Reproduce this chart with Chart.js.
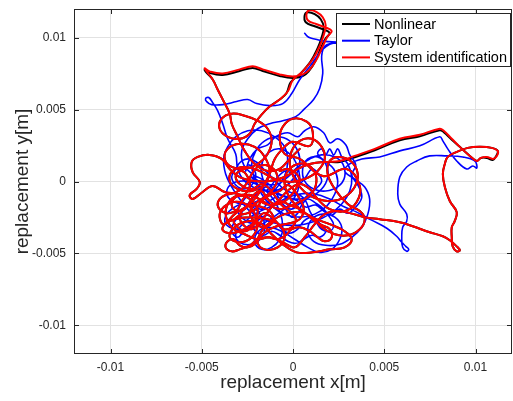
<!DOCTYPE html>
<html><head><meta charset="utf-8">
<script src="https://cdn.jsdelivr.net/npm/chart.js@4"></script>
<style>html,body{margin:0;padding:0;background:#fff;overflow:hidden}#wrap{width:513px;height:401px}</style>
</head><body><div id="wrap"><canvas id="c" width="513" height="401"></canvas></div>
<script>
const seriesLabels = ['Nonlinear', 'Taylor', 'System identification'];
const seriesColors = ['#000000', '#0000ff', '#ff0000'];
const seriesWidths = [2, 1.6, 2];
const xTickValues = [-0.01, -0.005, 0, 0.005, 0.01];
const xTickLabels = ['-0.01', '-0.005', '0', '0.005', '0.01'];
const yTickValues = [-0.01, -0.005, 0, 0.005, 0.01];
const yTickLabels = ['-0.01', '-0.005', '0', '0.005', '0.01'];
const axisTitles = ['replacement x[m]', 'replacement y[m]'];

const sysIdXY = [[0.00037,0.00227],[-0.00018,0.00157],[-0.00073,0.00087],[-0.00139,0.00073],[-0.00210,0.00122],[-0.00265,0.00213],[-0.00303,0.00311],[-0.00336,0.00402],[-0.00347,0.00472],[-0.00385,0.00570],[-0.00413,0.00640],[-0.00440,0.00710],[-0.00473,0.00766],[-0.00484,0.00787],[-0.00457,0.00766],[-0.00385,0.00752],[-0.00292,0.00780],[-0.00221,0.00801],[-0.00166,0.00780],[-0.00073,0.00745],[-0.00002,0.00731],[0.00053,0.00745],[0.00092,0.00780],[0.00130,0.00850],[0.00163,0.00941],[0.00190,0.01010],[0.00212,0.01045],[0.00190,0.01066],[0.00130,0.01094],[0.00081,0.01122],[0.00075,0.01171],[0.00092,0.01192],[0.00130,0.01178],[0.00163,0.01143],[0.00179,0.01087],[0.00168,0.01017],[0.00146,0.00941],[0.00108,0.00850],[0.00053,0.00766],[-0.00002,0.00703],[-0.00029,0.00626],[-0.00073,0.00570],[-0.00128,0.00521],[-0.00172,0.00465],
[-0.00210,0.00402],[-0.00237,0.00332],[-0.00292,0.00297],[-0.00358,0.00311],[-0.00402,0.00367],[-0.00391,0.00437],[-0.00336,0.00472],[-0.00265,0.00458],[-0.00194,0.00423],[-0.00139,0.00367],[-0.00117,0.00283],[-0.00139,0.00192],[-0.00194,0.00122],[-0.00265,0.00087],[-0.00336,0.00101],[-0.00374,0.00157],[-0.00358,0.00227],[-0.00292,0.00262],[-0.00210,0.00241],[-0.00155,0.00171],[-0.00128,0.00073],[-0.00155,-0.00017],[-0.00226,-0.00066],[-0.00303,-0.00052],[-0.00347,0.00003],[-0.00331,0.00073],[-0.00265,0.00101],[-0.00183,0.00073],[-0.00100,0.00017],[-0.00018,-0.00003],[0.00064,0.00017],[0.00135,0.00073],[0.00174,0.00157],[0.00157,0.00241],[0.00103,0.00297],[0.00037,0.00283],[-0.00007,0.00213],[-0.00018,0.00122],[0.00009,0.00017],[0.00064,-0.00073],[0.00135,-0.00122],[0.00212,-0.00136],[0.00283,-0.00108],[0.00338,-0.00038],[0.00355,0.00052],[0.00322,0.00136],[0.00256,0.00171],[0.00201,0.00143],[0.00190,0.00052],[0.00229,-0.00052],[0.00300,-0.00157],[0.00366,-0.00206],[0.00393,-0.00262],[0.00366,-0.00332],[0.00300,-0.00374],[0.00229,-0.00367],[0.00157,-0.00318],[0.00103,-0.00248],[0.00037,-0.00213],[-0.00046,-0.00227],[-0.00117,-0.00276],[-0.00172,-0.00346],[-0.00194,-0.00423],[-0.00155,-0.00472],[-0.00084,-0.00458],[-0.00046,-0.00388],[-0.00073,-0.00304],[-0.00139,-0.00262],[-0.00237,-0.00248],[-0.00320,-0.00262],[-0.00374,-0.00297],[-0.00385,-0.00339],[-0.00336,-0.00360],[-0.00265,-0.00332],[-0.00210,-0.00276],[-0.00194,-0.00192],[-0.00237,-0.00122],[-0.00303,-0.00087],[-0.00374,-0.00073],[-0.00440,-0.00031],[-0.00495,-0.00073],[-0.00550,-0.00122],[-0.00566,-0.00094],[-0.00528,-0.00052],[-0.00511,-0.00003],[-0.00550,0.00066],[-0.00555,0.00136],[-0.00522,0.00171],[-0.00457,0.00185],[-0.00391,0.00157],[-0.00347,0.00087],[-0.00292,0.00031],[-0.00210,0.00003],[-0.00128,0.00003],[-0.00046,0.00031],[0.00026,0.00087],[0.00092,0.00122],[0.00174,0.00136],[0.00256,0.00143],
[0.00338,0.00178],[0.00448,0.00227],[0.00585,0.00297],[0.00695,0.00325],[0.00804,0.00367],[0.00826,0.00353],[0.00870,0.00297],[0.00914,0.00241],[0.00969,0.00178],[0.01007,0.00143],[0.01029,0.00164],[0.01062,0.00171],[0.01095,0.00157],[0.01117,0.00178],[0.01122,0.00213],[0.01089,0.00234],[0.01023,0.00241],[0.00958,0.00234],[0.00897,0.00206],[0.00848,0.00171],[0.00832,0.00122],[0.00821,0.00052],[0.00832,-0.00038],[0.00859,-0.00136],[0.00897,-0.00213],[0.00886,-0.00276],[0.00870,-0.00318],[0.00870,-0.00388],[0.00875,-0.00451],[0.00897,-0.00486],[0.00914,-0.00479],[0.00897,-0.00451],[0.00859,-0.00409],[0.00821,-0.00381],[0.00749,-0.00353],[0.00656,-0.00311],[0.00585,-0.00283],[0.00475,-0.00262],[0.00393,-0.00248],[0.00311,-0.00220],
[0.00245,-0.00206],[0.00174,-0.00227],[0.00119,-0.00297],[0.00064,-0.00388],[0.00009,-0.00458],[-0.00056,-0.00423],[-0.00128,-0.00388],[-0.00194,-0.00402],[-0.00265,-0.00367],[-0.00336,-0.00318],[-0.00369,-0.00227],[-0.00347,-0.00136],[-0.00292,-0.00094],[-0.00210,-0.00108],[-0.00139,-0.00157],[-0.00073,-0.00192],[0.00009,-0.00157],[0.00081,-0.00108],[0.00124,-0.00031],[0.00119,0.00066],[0.00064,0.00122],[-0.00007,0.00101],[-0.00046,0.00017],[-0.00029,-0.00087],[0.00026,-0.00178],[0.00103,-0.00248],[0.00201,-0.00297],[0.00283,-0.00346],[0.00322,-0.00402],[0.00283,-0.00458],[0.00201,-0.00472],[0.00108,-0.00493],[0.00020,-0.00493],[-0.00056,-0.00437],[-0.00117,-0.00367],[-0.00172,-0.00297],[-0.00248,-0.00276],[-0.00320,-0.00318],[-0.00347,-0.00388],[-0.00292,-0.00423],[-0.00226,-0.00388],[-0.00194,-0.00297],[-0.00226,-0.00192],[-0.00292,-0.00143],[-0.00358,-0.00157],[-0.00402,-0.00227],[-0.00380,-0.00297],[-0.00320,-0.00227],[-0.00237,-0.00157],[-0.00172,-0.00052],[-0.00128,0.00052],[-0.00100,0.00157],[-0.00046,0.00241],[-0.00002,0.00276],[0.00092,0.00248],[0.00108,0.00346],[0.00075,0.00416],[-0.00002,0.00437],[-0.00056,0.00381],[-0.00073,0.00297],[-0.00046,0.00192],[0.00037,0.00157],[0.00163,0.00038],[0.00294,0.00087],[0.00366,-0.00031],[0.00349,-0.00143],[0.00283,-0.00206],[0.00201,-0.00192],[0.00135,-0.00122],[0.00092,-0.00052],
[0.00037,-0.00017],[-0.00018,-0.00052],[-0.00062,-0.00108],[-0.00100,-0.00157],[-0.00139,-0.00122],[-0.00172,-0.00066],[-0.00210,-0.00087],[-0.00237,-0.00143],[-0.00265,-0.00192],[-0.00303,-0.00206],[-0.00336,-0.00164],[-0.00314,-0.00108],[-0.00270,-0.00094],[-0.00237,-0.00038],[-0.00248,0.00031],[-0.00281,0.00073],[-0.00314,0.00045],[-0.00292,-0.00017],[-0.00226,-0.00052],[-0.00172,-0.00017],[-0.00128,-0.00052],[-0.00095,-0.00108],[-0.00062,-0.00164],[-0.00018,-0.00206],[0.00015,-0.00262],[-0.00007,-0.00318],[-0.00051,-0.00332],[-0.00084,-0.00290],[-0.00117,-0.00248],[-0.00161,-0.00220],[-0.00194,-0.00262],[-0.00226,-0.00318],[-0.00265,-0.00346],[-0.00303,-0.00318],[-0.00325,-0.00276],[-0.00292,-0.00234],[-0.00248,-0.00220],[-0.00204,-0.00192],[-0.00172,-0.00136],[-0.00128,-0.00094],[-0.00073,-0.00066],[-0.00029,-0.00024],[0.00009,-0.00066],[0.00037,-0.00122],[0.00059,-0.00192],[0.00037,-0.00262],[-0.00018,-0.00290],[-0.00073,-0.00304],[-0.00128,-0.00332],[-0.00172,-0.00374],[-0.00204,-0.00430],[-0.00248,-0.00458],[-0.00292,-0.00444],[-0.00325,-0.00402],[-0.00358,-0.00416],[-0.00369,-0.00458],[-0.00336,-0.00486],[-0.00292,-0.00472],[-0.00237,-0.00444],[-0.00194,-0.00402],[-0.00139,-0.00388],[-0.00084,-0.00402],[-0.00040,-0.00374],[-0.00007,-0.00332],[0.00037,-0.00318],[0.00092,-0.00346],[0.00135,-0.00388],[0.00174,-0.00416],[0.00212,-0.00388],[0.00201,-0.00332],[0.00157,-0.00304],[0.00119,-0.00276],[0.00081,-0.00234],[0.00037,-0.00192],[-0.00018,-0.00164],[-0.00073,-0.00136],[-0.00117,-0.00178],[-0.00150,-0.00234],[-0.00183,-0.00290],[-0.00226,-0.00332],[-0.00270,-0.00304],[-0.00292,-0.00248],[-0.00270,-0.00192],[-0.00226,-0.00164],[-0.00172,-0.00178],[-0.00128,-0.00206],[-0.00106,-0.00262],[-0.00128,-0.00304],[-0.00172,-0.00318],[-0.00215,-0.00276],[-0.00237,-0.00220],[-0.00215,-0.00164],[-0.00172,-0.00122],[-0.00128,-0.00080],[-0.00095,-0.00024],[-0.00084,0.00031],[-0.00106,0.00087],[-0.00150,0.00115],[-0.00194,0.00101],[-0.00226,0.00052],[-0.00248,-0.00003],[-0.00281,-0.00052],[-0.00325,-0.00080],[-0.00369,-0.00094],[-0.00402,-0.00122],[-0.00413,-0.00164],[-0.00391,-0.00206],[-0.00347,-0.00220],[-0.00303,-0.00192],[-0.00281,-0.00136],[-0.00248,-0.00094],[-0.00204,-0.00108],[-0.00161,-0.00150],[-0.00117,-0.00164],[-0.00062,-0.00150],[-0.00018,-0.00108],[0.00015,-0.00052],[0.00037,0.00003],[0.00015,0.00059],[-0.00029,0.00087],[-0.00073,0.00073]];

const nonlinearXY = [[0.00037,0.00227],[-0.00018,0.00157],[-0.00073,0.00087],[-0.00139,0.00073],[-0.00210,0.00122],[-0.00265,0.00213],[-0.00303,0.00311],[-0.00336,0.00402],[-0.00347,0.00472],[-0.00385,0.00570],[-0.00413,0.00640],[-0.00440,0.00710],[-0.00473,0.00756],[-0.00484,0.00777],[-0.00457,0.00755],[-0.00385,0.00741],[-0.00292,0.00769],[-0.00221,0.00790],[-0.00166,0.00769],[-0.00073,0.00734],[-0.00002,0.00720],[0.00053,0.00733],[0.00086,0.00766],[0.00122,0.00836],[0.00152,0.00927],[0.00179,0.00996],[0.00201,0.01031],[0.00179,0.01052],[0.00119,0.01080],[0.00070,0.01108],[0.00064,0.01157],[0.00081,0.01178],[0.00119,0.01164],[0.00152,0.01129],[0.00168,0.01073],[0.00157,0.01003],[0.00135,0.00927],[0.00097,0.00836],[0.00042,0.00752],[-0.00013,0.00689],[-0.00035,0.00616],[-0.00073,0.00570],[-0.00128,0.00521],[-0.00172,0.00465],
[-0.00210,0.00402],[-0.00237,0.00332],[-0.00292,0.00297],[-0.00358,0.00311],[-0.00402,0.00367],[-0.00391,0.00437],[-0.00336,0.00472],[-0.00265,0.00458],[-0.00194,0.00423],[-0.00139,0.00367],[-0.00117,0.00283],[-0.00139,0.00192],[-0.00194,0.00122],[-0.00265,0.00087],[-0.00336,0.00101],[-0.00374,0.00157],[-0.00358,0.00227],[-0.00292,0.00262],[-0.00210,0.00241],[-0.00155,0.00171],[-0.00128,0.00073],[-0.00155,-0.00017],[-0.00226,-0.00066],[-0.00303,-0.00052],[-0.00347,0.00003],[-0.00331,0.00073],[-0.00265,0.00101],[-0.00183,0.00073],[-0.00100,0.00017],[-0.00018,-0.00003],[0.00064,0.00017],[0.00135,0.00073],[0.00174,0.00157],[0.00157,0.00241],[0.00103,0.00297],[0.00037,0.00283],[-0.00007,0.00213],[-0.00018,0.00122],[0.00009,0.00017],[0.00064,-0.00073],[0.00135,-0.00122],[0.00212,-0.00136],[0.00283,-0.00108],[0.00338,-0.00038],[0.00355,0.00052],[0.00322,0.00136],[0.00256,0.00171],[0.00201,0.00143],[0.00190,0.00052],[0.00229,-0.00052],[0.00300,-0.00157],[0.00366,-0.00206],[0.00393,-0.00262],[0.00366,-0.00332],[0.00300,-0.00374],[0.00229,-0.00367],[0.00157,-0.00318],[0.00103,-0.00248],[0.00037,-0.00213],[-0.00046,-0.00227],[-0.00117,-0.00276],[-0.00172,-0.00346],[-0.00194,-0.00423],[-0.00155,-0.00472],[-0.00084,-0.00458],[-0.00046,-0.00388],[-0.00073,-0.00304],[-0.00139,-0.00262],[-0.00237,-0.00248],[-0.00320,-0.00262],[-0.00374,-0.00297],[-0.00385,-0.00339],[-0.00336,-0.00360],[-0.00265,-0.00332],[-0.00210,-0.00276],[-0.00194,-0.00192],[-0.00237,-0.00122],[-0.00303,-0.00087],[-0.00374,-0.00073],[-0.00440,-0.00031],[-0.00495,-0.00073],[-0.00550,-0.00122],[-0.00566,-0.00094],[-0.00528,-0.00052],[-0.00511,-0.00003],[-0.00550,0.00066],[-0.00555,0.00136],[-0.00522,0.00171],[-0.00457,0.00185],[-0.00391,0.00157],[-0.00347,0.00087],[-0.00292,0.00031],[-0.00210,0.00003],[-0.00128,0.00003],[-0.00046,0.00031],[0.00026,0.00087],[0.00092,0.00122],[0.00174,0.00136],[0.00256,0.00136],
[0.00338,0.00168],[0.00448,0.00217],[0.00585,0.00287],[0.00695,0.00315],[0.00804,0.00357],[0.00826,0.00343],[0.00870,0.00290],[0.00914,0.00241],[0.00969,0.00178],[0.01007,0.00143],[0.01029,0.00164],[0.01062,0.00164],[0.01095,0.00150],[0.01110,0.00170],[0.01122,0.00213],[0.01089,0.00234],[0.01023,0.00241],[0.00958,0.00234],[0.00897,0.00206],[0.00848,0.00171],[0.00832,0.00122],[0.00821,0.00052],[0.00832,-0.00038],[0.00859,-0.00136],[0.00897,-0.00213],[0.00886,-0.00276],[0.00870,-0.00318],[0.00870,-0.00388],[0.00875,-0.00451],[0.00897,-0.00486],[0.00914,-0.00479],[0.00897,-0.00451],[0.00859,-0.00409],[0.00821,-0.00381],[0.00749,-0.00353],[0.00656,-0.00311],[0.00585,-0.00283],[0.00475,-0.00262],[0.00393,-0.00248],[0.00311,-0.00220],
[0.00245,-0.00206],[0.00174,-0.00227],[0.00119,-0.00297],[0.00064,-0.00388],[0.00009,-0.00458],[-0.00056,-0.00423],[-0.00128,-0.00388],[-0.00194,-0.00402],[-0.00265,-0.00367],[-0.00336,-0.00318],[-0.00369,-0.00227],[-0.00347,-0.00136],[-0.00292,-0.00094],[-0.00210,-0.00108],[-0.00139,-0.00157],[-0.00073,-0.00192],[0.00009,-0.00157],[0.00081,-0.00108],[0.00124,-0.00031],[0.00119,0.00066],[0.00064,0.00122],[-0.00007,0.00101],[-0.00046,0.00017],[-0.00029,-0.00087],[0.00026,-0.00178],[0.00103,-0.00248],[0.00201,-0.00297],[0.00283,-0.00346],[0.00322,-0.00402],[0.00283,-0.00458],[0.00201,-0.00472],[0.00108,-0.00493],[0.00020,-0.00493],[-0.00056,-0.00437],[-0.00117,-0.00367],[-0.00172,-0.00297],[-0.00248,-0.00276],[-0.00320,-0.00318],[-0.00347,-0.00388],[-0.00292,-0.00423],[-0.00226,-0.00388],[-0.00194,-0.00297],[-0.00226,-0.00192],[-0.00292,-0.00143],[-0.00358,-0.00157],[-0.00402,-0.00227],[-0.00380,-0.00297],[-0.00320,-0.00227],[-0.00237,-0.00157],[-0.00172,-0.00052],[-0.00128,0.00052],[-0.00100,0.00157],[-0.00046,0.00241],[-0.00002,0.00276],[0.00092,0.00248],[0.00108,0.00346],[0.00075,0.00416],[-0.00002,0.00437],[-0.00056,0.00381],[-0.00073,0.00297],[-0.00046,0.00192],[0.00037,0.00157],[0.00163,0.00038],[0.00294,0.00087],[0.00366,-0.00031],[0.00349,-0.00143],[0.00283,-0.00206],[0.00201,-0.00192],[0.00135,-0.00122],[0.00092,-0.00052],
[0.00037,-0.00017],[-0.00018,-0.00052],[-0.00062,-0.00108],[-0.00100,-0.00157],[-0.00139,-0.00122],[-0.00172,-0.00066],[-0.00210,-0.00087],[-0.00237,-0.00143],[-0.00265,-0.00192],[-0.00303,-0.00206],[-0.00336,-0.00164],[-0.00314,-0.00108],[-0.00270,-0.00094],[-0.00237,-0.00038],[-0.00248,0.00031],[-0.00281,0.00073],[-0.00314,0.00045],[-0.00292,-0.00017],[-0.00226,-0.00052],[-0.00172,-0.00017],[-0.00128,-0.00052],[-0.00095,-0.00108],[-0.00062,-0.00164],[-0.00018,-0.00206],[0.00015,-0.00262],[-0.00007,-0.00318],[-0.00051,-0.00332],[-0.00084,-0.00290],[-0.00117,-0.00248],[-0.00161,-0.00220],[-0.00194,-0.00262],[-0.00226,-0.00318],[-0.00265,-0.00346],[-0.00303,-0.00318],[-0.00325,-0.00276],[-0.00292,-0.00234],[-0.00248,-0.00220],[-0.00204,-0.00192],[-0.00172,-0.00136],[-0.00128,-0.00094],[-0.00073,-0.00066],[-0.00029,-0.00024],[0.00009,-0.00066],[0.00037,-0.00122],[0.00059,-0.00192],[0.00037,-0.00262],[-0.00018,-0.00290],[-0.00073,-0.00304],[-0.00128,-0.00332],[-0.00172,-0.00374],[-0.00204,-0.00430],[-0.00248,-0.00458],[-0.00292,-0.00444],[-0.00325,-0.00402],[-0.00358,-0.00416],[-0.00369,-0.00458],[-0.00336,-0.00486],[-0.00292,-0.00472],[-0.00237,-0.00444],[-0.00194,-0.00402],[-0.00139,-0.00388],[-0.00084,-0.00402],[-0.00040,-0.00374],[-0.00007,-0.00332],[0.00037,-0.00318],[0.00092,-0.00346],[0.00135,-0.00388],[0.00174,-0.00416],[0.00212,-0.00388],[0.00201,-0.00332],[0.00157,-0.00304],[0.00119,-0.00276],[0.00081,-0.00234],[0.00037,-0.00192],[-0.00018,-0.00164],[-0.00073,-0.00136],[-0.00117,-0.00178],[-0.00150,-0.00234],[-0.00183,-0.00290],[-0.00226,-0.00332],[-0.00270,-0.00304],[-0.00292,-0.00248],[-0.00270,-0.00192],[-0.00226,-0.00164],[-0.00172,-0.00178],[-0.00128,-0.00206],[-0.00106,-0.00262],[-0.00128,-0.00304],[-0.00172,-0.00318],[-0.00215,-0.00276],[-0.00237,-0.00220],[-0.00215,-0.00164],[-0.00172,-0.00122],[-0.00128,-0.00080],[-0.00095,-0.00024],[-0.00084,0.00031],[-0.00106,0.00087],[-0.00150,0.00115],[-0.00194,0.00101],[-0.00226,0.00052],[-0.00248,-0.00003],[-0.00281,-0.00052],[-0.00325,-0.00080],[-0.00369,-0.00094],[-0.00402,-0.00122],[-0.00413,-0.00164],[-0.00391,-0.00206],[-0.00347,-0.00220],[-0.00303,-0.00192],[-0.00281,-0.00136],[-0.00248,-0.00094],[-0.00204,-0.00108],[-0.00161,-0.00150],[-0.00117,-0.00164],[-0.00062,-0.00150],[-0.00018,-0.00108],[0.00015,-0.00052],[0.00037,0.00003],[0.00015,0.00059],[-0.00029,0.00087],[-0.00073,0.00073]];

const taylorXY = [[0.00064,0.01031],[0.00086,0.01003],[0.00124,0.00990],[0.00174,0.00975],[0.00245,0.00969],[0.00201,0.00955],[0.00157,0.00913],[0.00124,0.00857],[0.00092,0.00801],[0.00037,0.00710],[-0.00007,0.00612],[-0.00056,0.00542],[-0.00128,0.00528],[-0.00199,0.00542],[-0.00248,0.00570],[-0.00309,0.00556],[-0.00385,0.00535],[-0.00446,0.00535],[-0.00473,0.00556],[-0.00479,0.00577],[-0.00462,0.00584],[-0.00440,0.00549],[-0.00413,0.00493],[-0.00385,0.00402],[-0.00358,0.00297],[-0.00314,0.00192],[-0.00303,0.00087],[-0.00265,0.00003],[-0.00194,-0.00052],[-0.00117,-0.00066],[-0.00046,-0.00038],[0.00009,0.00031],[0.00037,0.00122],[0.00026,0.00213],[-0.00018,0.00283],[-0.00084,0.00311],[-0.00155,0.00283],[-0.00204,0.00213],[-0.00226,0.00122],[-0.00210,0.00017],[-0.00172,-0.00087],[-0.00117,-0.00171],[-0.00046,-0.00227],[0.00037,-0.00248],[0.00119,-0.00227],[0.00185,-0.00171],[0.00229,-0.00087],[0.00245,0.00003],[0.00223,0.00087],[0.00174,0.00143],[0.00135,0.00192],[0.00157,0.00227],[0.00179,0.00185],[0.00201,0.00227],[0.00223,0.00185],[0.00245,0.00227],[0.00267,0.00171],[0.00300,0.00122],[0.00322,0.00031],[0.00311,-0.00066],[0.00267,-0.00157],[0.00201,-0.00227],[0.00119,-0.00276],[0.00026,-0.00304],[-0.00073,-0.00297],[-0.00161,-0.00262],[-0.00237,-0.00206],[-0.00292,-0.00122],[-0.00336,-0.00038],[-0.00369,0.00052],[-0.00380,0.00157],[-0.00358,0.00241],[-0.00314,0.00311],[-0.00248,0.00353],[-0.00172,0.00353],[-0.00100,0.00311],[-0.00046,0.00241],[-0.00029,0.00143],[-0.00046,0.00038],[-0.00095,-0.00052],[-0.00172,-0.00122],[-0.00248,-0.00157],[-0.00320,-0.00143],[-0.00363,-0.00087],[-0.00336,-0.00017],[-0.00265,0.00003],[-0.00183,-0.00031],[-0.00117,-0.00108],[-0.00073,-0.00206],[-0.00056,-0.00318],[-0.00073,-0.00402],[-0.00117,-0.00458],[-0.00172,-0.00472],[-0.00210,-0.00423],[-0.00194,-0.00353],[-0.00139,-0.00318],[-0.00062,-0.00346],[0.00009,-0.00402],[0.00081,-0.00458],[0.00146,-0.00493],[0.00212,-0.00472],[0.00256,-0.00402],[0.00267,-0.00318],[0.00229,-0.00248],[0.00163,-0.00227],[0.00103,-0.00262],[0.00081,-0.00346],[0.00113,-0.00416],[0.00179,-0.00444],[0.00256,-0.00437],[0.00322,-0.00388],[0.00377,-0.00318],[0.00410,-0.00227],[0.00420,-0.00122],[0.00393,-0.00038],[0.00338,0.00017],[0.00283,0.00073],[0.00311,0.00122],[0.00377,0.00157],[0.00475,0.00171],[0.00585,0.00213],[0.00695,0.00248],[0.00804,0.00311],[0.00821,0.00283],[0.00848,0.00227],[0.00897,0.00143],[0.00952,0.00087],[0.00985,0.00108],[0.01007,0.00094],[0.00996,0.00143],[0.00930,0.00171],[0.00843,0.00178],[0.00749,0.00178],[0.00678,0.00143],[0.00623,0.00101],[0.00585,0.00031],[0.00574,-0.00087],[0.00585,-0.00157],[0.00623,-0.00227],[0.00623,-0.00276],[0.00601,-0.00318],[0.00596,-0.00388],[0.00601,-0.00458],[0.00623,-0.00486],[0.00634,-0.00472],[0.00618,-0.00451],[0.00596,-0.00423],[0.00568,-0.00381],[0.00514,-0.00325],[0.00431,-0.00269],[0.00338,-0.00206],[0.00283,-0.00178],[0.00201,-0.00122],[0.00119,-0.00087],[0.00037,-0.00087],[-0.00046,-0.00122],[-0.00128,-0.00178],[-0.00210,-0.00227],[-0.00276,-0.00297],[-0.00314,-0.00367],[-0.00292,-0.00423],[-0.00226,-0.00437],[-0.00172,-0.00388],[-0.00155,-0.00297],[-0.00194,-0.00206],[-0.00265,-0.00157],[-0.00336,-0.00192],[-0.00374,-0.00262],[-0.00347,-0.00318],[-0.00265,-0.00332],[-0.00172,-0.00297],[-0.00084,-0.00227],[-0.00018,-0.00157],[0.00026,-0.00066],[0.00037,0.00031],[0.00020,0.00122],[-0.00018,0.00192],[-0.00073,0.00227],[-0.00128,0.00206],[-0.00166,0.00143],[-0.00172,0.00052],[-0.00139,-0.00038],[-0.00073,-0.00094],[0.00009,-0.00122],[0.00092,-0.00108],[0.00157,-0.00052],[0.00190,0.00031],[0.00179,0.00122],[0.00135,0.00171],[0.00081,0.00157],[0.00053,0.00087],[0.00064,0.00003],[0.00113,-0.00052],[0.00179,-0.00066],[0.00245,-0.00038],[0.00283,0.00031],[0.00273,0.00122],[0.00229,0.00171],[0.00157,0.00185],[0.00092,0.00157],[0.00026,0.00101],[-0.00029,0.00031],[-0.00084,-0.00017],[-0.00155,-0.00017],[-0.00226,0.00031],
[-0.00194,-0.00017],[-0.00155,-0.00066],[-0.00117,-0.00024],[-0.00084,0.00031],[-0.00040,0.00073],[0.00004,0.00045],[0.00037,-0.00010],[0.00070,0.00031],[0.00103,0.00087],[0.00135,0.00059],[0.00157,0.00003],[0.00124,-0.00052],[0.00081,-0.00094],[0.00037,-0.00150],[-0.00007,-0.00192],[-0.00051,-0.00164],[-0.00084,-0.00108],[-0.00128,-0.00136],[-0.00172,-0.00192],[-0.00215,-0.00164],[-0.00248,-0.00108],[-0.00281,-0.00150],[-0.00303,-0.00206],[-0.00270,-0.00262],[-0.00226,-0.00290],[-0.00183,-0.00262],[-0.00139,-0.00234],[-0.00095,-0.00276],[-0.00062,-0.00332],[-0.00018,-0.00360],[0.00026,-0.00332],[0.00059,-0.00276],[0.00103,-0.00248],[0.00146,-0.00290],[0.00179,-0.00346],[0.00146,-0.00388],[0.00103,-0.00374],[0.00059,-0.00402],[0.00015,-0.00430],[-0.00029,-0.00416],[-0.00073,-0.00374],[-0.00117,-0.00346],[-0.00161,-0.00374],[-0.00204,-0.00346],[-0.00237,-0.00304],[-0.00270,-0.00346],[-0.00303,-0.00388],[-0.00336,-0.00346],[-0.00325,-0.00290],[-0.00292,-0.00234],[-0.00259,-0.00178],[-0.00226,-0.00122],[-0.00194,-0.00080],[-0.00150,-0.00038],[-0.00106,-0.00066],[-0.00073,-0.00122],[-0.00040,-0.00192],[-0.00007,-0.00248],[0.00026,-0.00220],[0.00048,-0.00164],[0.00081,-0.00122],[0.00124,-0.00150],[0.00168,-0.00192],[0.00201,-0.00248],[0.00223,-0.00304],[0.00201,-0.00346],[0.00157,-0.00332],[0.00124,-0.00276],[0.00092,-0.00206],[0.00070,-0.00136],[0.00037,-0.00094],[-0.00007,-0.00080],[-0.00051,-0.00052],[-0.00095,0.00003],[-0.00128,0.00045],[-0.00161,0.00087],[-0.00194,0.00129],[-0.00237,0.00157],[-0.00281,0.00143],[-0.00314,0.00087],[-0.00336,0.00031],[-0.00314,-0.00024],[-0.00270,-0.00052],[-0.00226,-0.00024],[-0.00204,0.00031],[-0.00215,0.00087],[-0.00248,0.00115],[-0.00259,0.00073],
[-0.00237,0.00157],[-0.00194,0.00227],[-0.00139,0.00255],[-0.00095,0.00311],[-0.00029,0.00339],[0.00026,0.00311],[0.00064,0.00353],[0.00113,0.00381],[0.00168,0.00339],[0.00201,0.00269],[0.00245,0.00297],[0.00289,0.00255],[0.00311,0.00185],[0.00344,0.00115],[0.00322,0.00045],[0.00355,-0.00024],[0.00377,-0.00108],[0.00344,-0.00178],[0.00300,-0.00220],[0.00256,-0.00192],[0.00212,-0.00234],[0.00168,-0.00206],[0.00124,-0.00164],[0.00070,-0.00178],[0.00026,-0.00136],[-0.00029,-0.00108],[-0.00084,-0.00080],[-0.00128,-0.00024],[-0.00172,0.00017],[-0.00215,0.00045],
[-0.00270,0.00115],[-0.00281,0.00213],[-0.00248,0.00297],[-0.00194,0.00367],[-0.00128,0.00402],[-0.00056,0.00423],[0.00015,0.00451],[0.00064,0.00507],[0.00113,0.00570],[0.00146,0.00647],[0.00163,0.00752],[0.00157,0.00871],[0.00174,0.00941],[0.00212,0.00962],[0.00245,0.00962]];

const FONT = '"Liberation Sans", Arial, Helvetica, sans-serif';
const INK = '#262626';
const toPoints = arr => arr.map(p => ({x: p[0], y: p[1]}));
const seriesData = [nonlinearXY, taylorXY, sysIdXY];

const frameAndLegend = {
  id: 'frameAndLegend',
  afterDraw(chart) {
    const ctx = chart.ctx, a = chart.chartArea;
    const sx = chart.scales.x, sy = chart.scales.y;
    ctx.save();
    ctx.strokeStyle = INK; ctx.lineWidth = 1;
    ctx.strokeRect(Math.round(a.left) + 0.5, Math.round(a.top) + 0.5, Math.round(a.right - a.left) - 1, Math.round(a.bottom - a.top) - 1);
    const tl = 5;
    ctx.beginPath();
    xTickValues.forEach(v => {
      const px = Math.round(sx.getPixelForValue(v)) + 0.5;
      ctx.moveTo(px, a.bottom); ctx.lineTo(px, a.bottom - tl);
      ctx.moveTo(px, a.top); ctx.lineTo(px, a.top + tl);
    });
    yTickValues.forEach(v => {
      const py = Math.round(sy.getPixelForValue(v)) + 0.5;
      ctx.moveTo(a.left, py); ctx.lineTo(a.left + tl, py);
      ctx.moveTo(a.right, py); ctx.lineTo(a.right - tl, py);
    });
    ctx.stroke();
    const bw = 174, bh = 53;
    const bx = Math.round(a.right) - 1.5 - bw, by = Math.round(a.top) + 4.5;
    ctx.fillStyle = '#ffffff';
    ctx.fillRect(bx, by, bw, bh);
    ctx.strokeRect(bx, by, bw, bh);
    ctx.font = '14.5px ' + FONT;
    ctx.textBaseline = 'middle';
    ctx.textAlign = 'left';
    chart.data.datasets.forEach((ds, i) => {
      const yy = by + 10.5 + i * 16.7;
      ctx.strokeStyle = ds.borderColor; ctx.lineWidth = 2;
      ctx.beginPath(); ctx.moveTo(bx + 5.5, yy); ctx.lineTo(bx + 33.5, yy); ctx.stroke();
      ctx.fillStyle = '#000';
      ctx.fillText(ds.label, bx + 37.5, yy + 0.5);
    });
    ctx.restore();
  }
};

const datasets = seriesLabels.map((lab, i) => ({
  label: lab,
  data: toPoints(seriesData[i]),
  borderColor: seriesColors[i],
  backgroundColor: seriesColors[i],
  borderWidth: seriesWidths[i],
  showLine: true,
  pointRadius: 0,
  pointHoverRadius: 0,
  tension: 0.4,
  borderJoinStyle: 'round',
  borderCapStyle: 'round',
  order: 2 - i
}));

function axisCfg(vals, labels, title, isX) {
  return {
    type: 'linear',
    min: -0.012, max: 0.012,
    afterBuildTicks: s => { s.ticks = vals.map(v => ({value: v})); },
    afterFit: s => {
      if (isX) s.height = 47; else s.width = 74;
      s.paddingTop = 0; s.paddingBottom = 0; s.paddingLeft = 0; s.paddingRight = 0;
    },
    ticks: {
      callback: v => labels[vals.indexOf(v)],
      font: {family: FONT, size: 12},
      color: INK,
      padding: isX ? 6 : 8,
      maxRotation: 0, autoSkip: false
    },
    grid: {color: '#e2e2e2', lineWidth: 1, drawTicks: false},
    border: {display: false},
    title: {
      display: true, text: title, color: INK,
      font: {family: FONT, size: 19},
      padding: isX ? {top: 0, bottom: 7} : {top: 11, bottom: 0}
    }
  };
}

new Chart(document.getElementById('c'), {
  type: 'scatter',
  data: {datasets},
  options: {
    responsive: false,
    animation: false,
    devicePixelRatio: 1,
    layout: {padding: {top: 9, right: 1, left: 0, bottom: 0}},
    plugins: {legend: {display: false}, tooltip: {enabled: false}},
    scales: {
      x: axisCfg(xTickValues, xTickLabels, axisTitles[0], true),
      y: axisCfg(yTickValues, yTickLabels, axisTitles[1], false)
    }
  },
  plugins: [frameAndLegend]
});
</script></body></html>
